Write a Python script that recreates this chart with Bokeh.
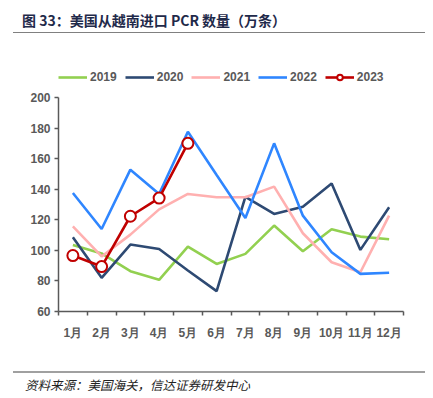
from bokeh.plotting import figure
from bokeh.models import (Legend, LegendItem, FixedTicker, Range1d, Div)
from bokeh.layouts import column
from bokeh.embed import file_html
from bokeh.resources import INLINE

months = ["1月", "2月", "3月", "4月", "5月", "6月", "7月", "8月", "9月", "10月", "11月", "12月"]
v2019 = [103.5, 98, 86.4, 80.7, 102.5, 91.1, 97.7, 116.2, 99.4, 113.8, 109, 107.3]
v2020 = [108.6, 82, 103.8, 100.9, 86.8, 73.3, 135, 123.8, 128.6, 143.8, 100.3, 128.2]
v2021 = [115.7, 96, 110.3, 126.8, 136.9, 134.7, 134.7, 141.7, 111.2, 92.2, 85.7, 122.7]
v2022 = [137.5, 114, 152.8, 136.9, 177.6, 149.3, 121.2, 170, 122.7, 98.8, 84.6, 85.3]
v2023 = [96.6, 89.4, 122.3, 134.2, 170]
y_ticks = [60, 80, 100, 120, 140, 160, 180, 200]

title_text = "图 33：美国从越南进口 PCR 数量（万条）"
source_text = "资料来源：美国海关，信达证券研发中心"

GRAY = "#595959"
FONT = "Liberation Sans"

title_div = Div(width=425, height=36, margin=0, text=(
    '<div style="margin-left:13px;width:412px;height:33px;box-sizing:border-box;'
    'border-bottom:1.5px solid #808080;padding:12px 0 0 9px;'
    "font-family:'Noto Sans CJK SC';font-weight:bold;font-size:14px;line-height:16px;"
    'color:#1F2A4A;white-space:nowrap;">' + title_text + '</div>'))

p = figure(width=425, height=324, output_backend="svg", toolbar_location=None,
           x_range=Range1d(0, len(months)), y_range=Range1d(60, 224.2),
           min_border_left=58, min_border_right=22, min_border_top=24,
           min_border_bottom=49, margin=0)
p.outline_line_color = None
p.grid.grid_line_color = None

xs = [i + 0.5 for i in range(len(months))]

series = [("2019", v2019, "#92D050"), ("2020", v2020, "#2E4A73"),
          ("2021", v2021, "#FFB0B0"), ("2022", v2022, "#2F86FF")]
items = []
for name, vals, col in series:
    r = p.line(xs[:len(vals)], vals, line_color=col, line_width=2.6)
    items.append(LegendItem(label=name, renderers=[r]))

r23 = p.line(xs[:len(v2023)], v2023, line_color="#C00000", line_width=2.6)
c23 = p.scatter(xs[:len(v2023)], v2023, marker="circle", size=11,
                line_color="#C00000", line_width=2, fill_color="white")
items.append(LegendItem(label="2023", renderers=[r23, c23]))

xa = p.xaxis[0]
xa.ticker = FixedTicker(ticks=xs, minor_ticks=list(range(len(months) + 1)))
xa.major_label_overrides = {x: m for x, m in zip(xs, months)}
xa.major_tick_line_color = None
xa.minor_tick_in = 0
xa.minor_tick_out = 4
xa.minor_tick_line_color = GRAY
xa.minor_tick_line_width = 1.5
xa.axis_line_color = GRAY
xa.axis_line_width = 1.5
xa.major_label_text_font = FONT
xa.major_label_text_font_style = "bold"
xa.major_label_text_font_size = "12px"
xa.major_label_text_color = GRAY
xa.major_label_standoff = 8

ya = p.yaxis[0]
ya.ticker = FixedTicker(ticks=y_ticks)
ya.bounds = (y_ticks[0], y_ticks[-1])
ya.minor_tick_line_color = None
ya.major_tick_in = 0
ya.major_tick_out = 4
ya.major_tick_line_color = GRAY
ya.major_tick_line_width = 1.5
ya.axis_line_color = GRAY
ya.axis_line_width = 1.5
ya.major_label_text_font = FONT
ya.major_label_text_font_style = "bold"
ya.major_label_text_font_size = "12px"
ya.major_label_text_color = GRAY
ya.major_label_standoff = 4

legend = Legend(items=items, orientation="horizontal", location=(0, 227),
                glyph_width=29, glyph_height=14, label_standoff=3, spacing=8,
                padding=0, margin=0, border_line_color=None,
                background_fill_alpha=0,
                label_text_font=FONT, label_text_font_style="bold",
                label_text_font_size="12px", label_text_color=GRAY)
p.add_layout(legend)

footer_div = Div(width=425, height=36, margin=0, text=(
    '<div style="margin-left:13px;margin-top:11px;width:412px;box-sizing:border-box;'
    'border-top:2px solid #A0A0A0;padding:5px 0 0 12px;'
    "font-family:'Noto Sans CJK SC';font-style:italic;font-size:12.5px;line-height:14px;"
    'color:#222222;white-space:nowrap;">' + source_text + '</div>'))

layout = column(title_div, p, footer_div, spacing=0)

open("out.html", "w").write(file_html(layout, INLINE))
